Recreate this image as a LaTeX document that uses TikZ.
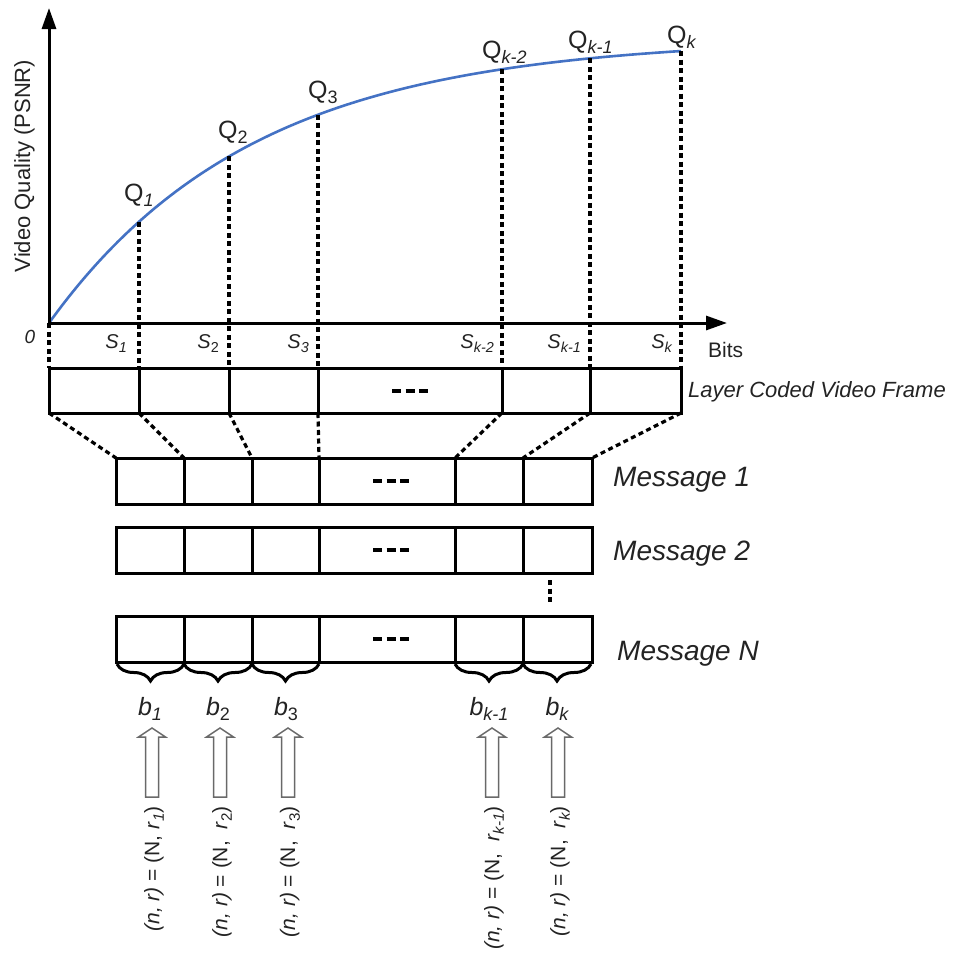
\documentclass[tikz,border=0pt]{standalone}
\usepackage{fontspec}
\setmainfont{Liberation Sans}
\usetikzlibrary{arrows.meta,decorations.pathreplacing}
\definecolor{curveblue}{RGB}{68,114,196}
\definecolor{ink}{RGB}{35,35,35}
\definecolor{hollow}{RGB}{105,105,105}
% lowered, smaller subscript made from text
\newcommand\lowtxt[1]{\raisebox{-0.42ex}{\scalebox{0.72}{#1}}}
% quality curve: y(x) for the rate-distortion line
\newcommand\psnrcurve[1]{323-285*(1-exp(-(#1-49)/205))}
\begin{document}
\begin{tikzpicture}[x=1pt,y=-1pt,
  axis/.style={line width=3pt,-{Triangle[length=21pt,width=14pt]}},
  boxline/.style={line width=3pt,line join=miter},
  guide/.style={line width=3.2pt,dash pattern=on 5pt off 3.5pt},
  gapdots/.style={line width=4.5pt,dash pattern=on 9pt off 4.5pt},
  lbl/.style={inner sep=0pt,text=ink},
  bracestyle/.style={line width=3pt,decorate,decoration={brace,amplitude=17pt,aspect=0.5}},
  blockarrow/.style={draw=hollow,line width=1.5pt,fill=white,line join=miter}]
\useasboundingbox (0,0) rectangle (953,953);

% ---------------- quality curve and axes ----------------
\coordinate (O) at (49,323);
\draw[curveblue,line width=2.6pt] plot[domain=49:681,samples=120,smooth] (\x,{\psnrcurve{\x}});
\draw[axis] (O) -- (49,8);
\draw[axis] (O) -- (727,323);

\node[lbl,rotate=90,anchor=base,font=\fontsize{22}{26}\selectfont] (ylab) at (30,166) {Video Quality (PSNR)};
\node[lbl,anchor=base,font=\fontsize{19}{22}\selectfont\itshape] (zero) at (30,343) {0};
\node[lbl,anchor=base west,font=\fontsize{21}{25}\selectfont] (bits) at (708,357) {Bits};

% points on the curve and the frame top below them
\foreach \i/\xx in {1/139,2/229,3/318,4/502,5/590,6/681}{
  \coordinate (Q\i) at (\xx,{\psnrcurve{\xx}});
  \coordinate (F\i) at (\xx,368);
}
\coordinate (F0) at (49,368);
\foreach \i in {1,...,6}{ \draw[guide] (Q\i) -- (F\i); }
\draw[guide] (O) -- (F0);

% quality labels
\begin{scope}[every node/.style={lbl,anchor=base west,font=\fontsize{25}{30}\selectfont}]
\node (q1) at (124,201) {Q\lowtxt{\itshape 1}};
\node (q2) at (218,138) {Q\lowtxt{2}};
\node (q3) at (308,98) {Q\lowtxt{3}};
\node (qk2) at (482,58) {Q\lowtxt{\itshape k-2}};
\node (qk1) at (568,48) {Q\lowtxt{\itshape k-1}};
\node (qk) at (667,43) {Q\lowtxt{\itshape k}};
\end{scope}

% size labels on the bits axis
\begin{scope}[every node/.style={lbl,anchor=base east,font=\fontsize{20}{24}\selectfont\itshape}]
\node (s1) at (127,348) {S\lowtxt{1}};
\node (s2) at (219,348) {S\lowtxt{\upshape 2}};
\node (s3) at (309,348) {S\lowtxt{3}};
\node (sk2) at (494,348) {S\lowtxt{k-2}};
\node (sk1) at (581,348) {S\lowtxt{k-1}};
\node (sk) at (672,348) {S\lowtxt{k}};
\end{scope}

% ---------------- layer coded video frame ----------------
\draw[boxline] (49,368) rectangle (681,413);
\foreach \xx in {139,229,318,502,590}{ \draw[boxline] (\xx,368) -- (\xx,413); }
\draw[gapdots] (392,391) -- (431,391);
\node[lbl,anchor=base west,font=\fontsize{22}{26}\selectfont\itshape] (framelab) at (688,397) {Layer Coded Video Frame};

% ---------------- messages ----------------
\foreach \tp/\nm in {458/1,527/2,616/N}{
  \draw[boxline] (116,\tp) rectangle (592,\tp+46);
  \foreach \xx in {184,252,319,455,523}{ \draw[boxline] (\xx,\tp) -- (\xx,\tp+46); }
  \draw[gapdots] (373,\tp+23) -- (412,\tp+23);
}
\node[lbl,anchor=base west,font=\fontsize{28}{32}\selectfont\itshape] (msg1) at (613,486) {Message 1};
\node[lbl,anchor=base west,font=\fontsize{28}{32}\selectfont\itshape] (msg2) at (613,560) {Message 2};
\node[lbl,anchor=base west,font=\fontsize{28}{32}\selectfont\itshape] (msgN) at (617,660) {Message N};

% vertical ellipsis between message 2 and message N
\coordinate (vd1) at (550,580);
\coordinate (vd2) at (550,604);
\draw[guide] (vd1) -- (vd2);

% mapping of frame layers onto message 1
\coordinate (F0b) at (49,413);
\foreach \i/\xx in {1/139,2/229,3/318,4/502,5/590,6/681}{ \coordinate (F\i b) at (\xx,413); }
\foreach \i/\xx in {0/116,1/184,2/252,3/319,4/455,5/523,6/592}{ \coordinate (M\i) at (\xx,458); }
\foreach \i in {0,...,6}{ \draw[guide] (F\i b) -- (M\i); }

% ---------------- braces, block sizes and code rates ----------------
\foreach \i/\xa/\xb in {1/117/184,2/184/252,3/252/319,4/455/523,5/523/591}{
  \draw[bracestyle] (\xb,664) -- (\xa,664);
}

\begin{scope}[every node/.style={lbl,anchor=base,font=\fontsize{25}{30}\selectfont\itshape}]
\node (b1) at (150,715) {b\lowtxt{1}};
\node (b2) at (218,715) {b\lowtxt{\upshape 2}};
\node (b3) at (286,715) {b\lowtxt{\upshape 3}};
\node (bk1) at (489,715) {b\lowtxt{k-1}};
\node (bk) at (557,715) {b\lowtxt{k}};
\end{scope}

% hollow block arrows
\foreach \xx in {152,220,288,492,558}{
  \draw[blockarrow] (\xx-6.5,797) -- (\xx-6.5,737) -- (\xx-13.5,737) -- (\xx,728)
     -- (\xx+13.5,737) -- (\xx+6.5,737) -- (\xx+6.5,797) -- cycle;
}

\begin{scope}[every node/.style={lbl,rotate=90,anchor=east,font=\fontsize{21}{25}\selectfont}]
\node (r1) at (154,806) {\textit{(n, r)} = (N, \textit{r}\lowtxt{\itshape 1})};
\node (r2) at (222,806) {\textit{(n, r)} = (N,\ \ \textit{r}\lowtxt{2})};
\node (r3) at (290,806) {\textit{(n, r)} = (N,\ \ \textit{r}\lowtxt{3})};
\node (rk1) at (494,806) {\textit{(n, r)} = (N,\ \ \textit{r}\lowtxt{\itshape k-1})};
\node (rk) at (560,806) {\textit{(n, r)} = (N,\ \ \textit{r}\lowtxt{\itshape k})};
\end{scope}
\end{tikzpicture}
\end{document}
